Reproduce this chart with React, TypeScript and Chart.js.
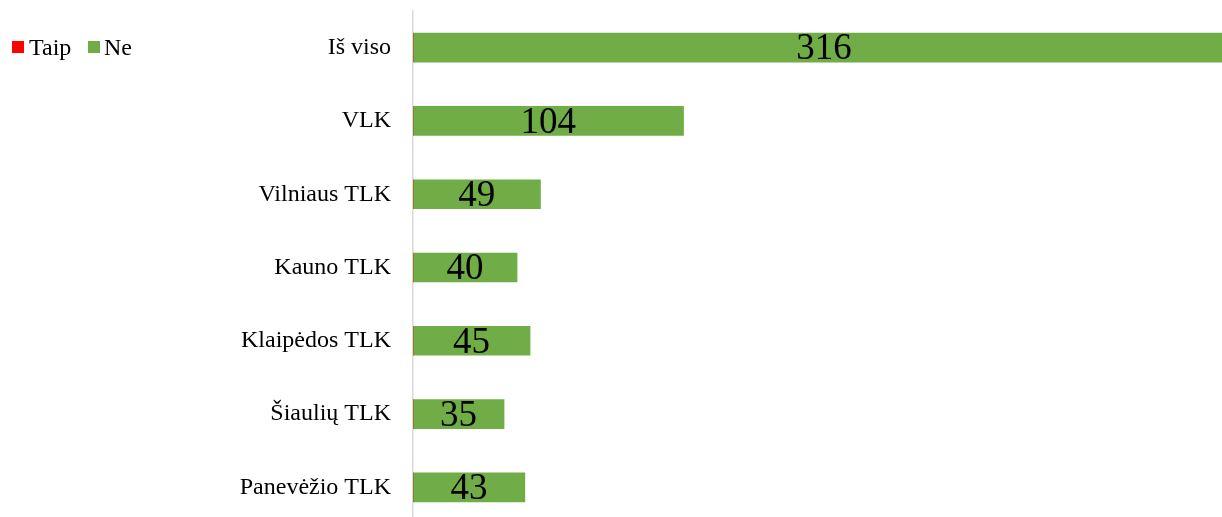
import React, { useEffect, useRef } from "react";
import { Chart, registerables } from "chart.js";

Chart.register(...registerables);

const categories = [
  "Iš viso",
  "VLK",
  "Vilniaus TLK",
  "Kauno TLK",
  "Klaipėdos TLK",
  "Šiaulių TLK",
  "Panevėžio TLK",
];
const taipValues = [0, 0, 0, 0, 0, 0, 0];
const neValues = [316, 104, 49, 40, 45, 35, 43];
const seriesNames = ["Taip", "Ne"];
const seriesColors = ["#ff0000", "#70ad47"];

const FONT = "'Liberation Serif', 'Times New Roman', serif";

const valueLabelPlugin = {
  id: "valueLabels",
  afterDatasetsDraw(chart: any) {
    const ctx = chart.ctx;
    ctx.save();
    ctx.font = `37px ${FONT}`;
    ctx.fillStyle = "#000000";
    ctx.textAlign = "center";
    ctx.textBaseline = "middle";
    const meta = chart.getDatasetMeta(1);
    meta.data.forEach((bar: any, i: number) => {
      const v = neValues[i];
      if (!v) return;
      const cx = (bar.x + bar.base) / 2;
      ctx.fillText(String(v), cx, bar.y + 2);
    });
    ctx.restore();
  },
};

const legendPlugin = {
  id: "customLegend",
  afterDraw(chart: any) {
    const ctx = chart.ctx;
    ctx.save();
    ctx.font = `24px ${FONT}`;
    ctx.textBaseline = "alphabetic";
    ctx.textAlign = "left";
    const items = [
      { x: 12, tx: 29 },
      { x: 88, tx: 104 },
    ];
    items.forEach((it, i) => {
      ctx.fillStyle = seriesColors[i];
      ctx.fillRect(it.x, 41, 12, 12);
      ctx.fillStyle = "#000000";
      ctx.fillText(seriesNames[i], it.tx, 55);
    });
    ctx.restore();
  },
};

export default function App() {
  const ref = useRef<HTMLCanvasElement | null>(null);
  useEffect(() => {
    if (!ref.current) return;
    const chart = new Chart(ref.current, {
      type: "bar",
      data: {
        labels: categories,
        datasets: [
          {
            label: seriesNames[0],
            data: taipValues,
            backgroundColor: seriesColors[0],
            barThickness: 29,
          },
          {
            label: seriesNames[1],
            data: neValues,
            backgroundColor: seriesColors[1],
            barThickness: 29,
          },
        ],
      },
      options: {
        indexAxis: "y",
        animation: false,
        responsive: false,
        maintainAspectRatio: false,
        layout: { padding: { top: 11, bottom: 1, left: 0, right: 0 } },
        plugins: {
          legend: { display: false },
          tooltip: { enabled: false },
        },
        scales: {
          x: {
            stacked: true,
            display: false,
            min: 0,
            max: 311,
          },
          y: {
            stacked: true,
            grid: { display: false },
            border: { display: true, color: "#d9d9d9", width: 1.5 },
            ticks: {
              color: "#000000",
              font: { family: FONT, size: 24 },
              padding: 14,
            },
            afterFit(scale: any) {
              scale.width = 413;
              scale.paddingTop = 0;
              scale.paddingBottom = 0;
            },
          },
        },
      },
      plugins: [valueLabelPlugin, legendPlugin],
    });
    return () => chart.destroy();
  }, []);
  return (
    <div
      style={{
        position: "fixed",
        left: 0,
        top: 0,
        width: 1222,
        height: 517,
        overflow: "hidden",
        background: "#ffffff",
      }}
    >
      <canvas ref={ref} width={1222} height={525} style={{ display: "block" }} />
    </div>
  );
}
